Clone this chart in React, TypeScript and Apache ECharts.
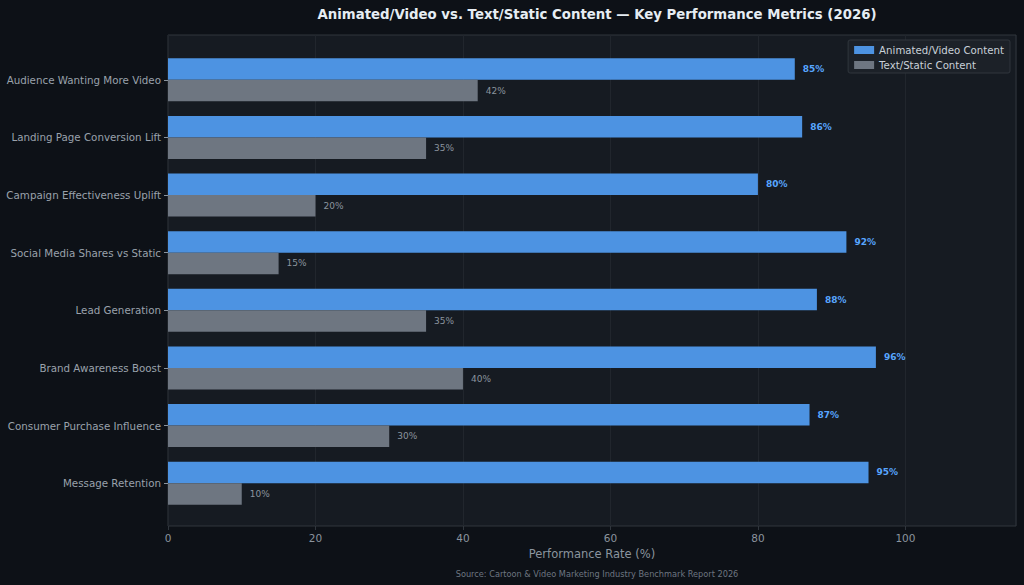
import { useEffect, useRef } from 'react';
import * as echarts from 'echarts';

// categories, top to bottom
const categories = [
    'Audience Wanting More Video',
    'Landing Page Conversion Lift',
    'Campaign Effectiveness Uplift',
    'Social Media Shares vs Static',
    'Lead Generation',
    'Brand Awareness Boost',
    'Consumer Purchase Influence',
    'Message Retention',
];

const animatedValues = [85, 86, 80, 92, 88, 96, 87, 95];
const staticValues = [42, 35, 20, 15, 35, 40, 30, 10];

const seriesNames = ['Animated/Video Content', 'Text/Static Content'];
const xTicks = [0, 20, 40, 60, 80, 100];

const FONT = '"DejaVu Sans", sans-serif';

const App = () => {
    const chartRef = useRef<HTMLDivElement>(null);

    useEffect(() => {
        if (!chartRef.current) return;
        const chart = echarts.init(chartRef.current, null, { renderer: 'svg' });

        const option = {
            animation: false,
            backgroundColor: '#0d1117',
            textStyle: { fontFamily: FONT },
            title: [
                {
                    text: 'Animated/Video vs. Text/Static Content — Key Performance Metrics (2026)',
                    left: 592,
                    top: 3,
                    textAlign: 'center',
                    textStyle: { color: '#e6edf3', fontSize: 13.3, fontWeight: 'bold', fontFamily: FONT },
                },
                {
                    text: 'Source: Cartoon & Video Marketing Industry Benchmark Report 2026',
                    left: 592,
                    top: 565,
                    textAlign: 'center',
                    textStyle: { color: '#6e7681', fontSize: 8.2, fontWeight: 'normal', fontFamily: FONT },
                },
            ],
            legend: {
                data: seriesNames,
                orient: 'vertical',
                right: 14,
                top: 40,
                icon: 'rect',
                itemWidth: 20,
                itemHeight: 8,
                itemGap: 5,
                padding: [5, 6, 3, 6],
                backgroundColor: '#1c2128',
                borderColor: '#30363d',
                borderWidth: 1,
                borderRadius: 2,
                itemStyle: { borderWidth: 0 },
                textStyle: { color: '#c9d1d9', fontSize: 10.2, fontFamily: FONT },
            },
            grid: [
                {
                    // frame / background
                    left: 168,
                    right: 8,
                    top: 35,
                    bottom: 59,
                    show: true,
                    backgroundColor: '#161b22',
                    borderColor: '#30363d',
                    borderWidth: 1,
                },
                {
                    // data area (category bands inset like matplotlib margins)
                    left: 168,
                    right: 8,
                    top: 51,
                    bottom: 73,
                },
            ],
            xAxis: [
                {
                    gridIndex: 0,
                    type: 'value',
                    min: 0,
                    max: 115,
                    interval: 20,
                    name: 'Performance Rate (%)',
                    nameLocation: 'middle',
                    nameGap: 21,
                    nameTextStyle: { color: '#8b949e', fontSize: 11.5 },
                    axisLine: { show: false },
                    axisTick: { show: true, length: 4, lineStyle: { color: '#30363d' } },
                    axisLabel: {
                        color: '#8b949e',
                        fontSize: 10.5,
                        margin: 6,
                        showMaxLabel: false,
                        formatter: (v: number) => (xTicks.includes(v) ? String(v) : ''),
                    },
                    splitLine: { show: true, lineStyle: { color: '#21262d', width: 1 } },
                },
                {
                    gridIndex: 1,
                    type: 'value',
                    min: 0,
                    max: 115,
                    show: false,
                },
            ],
            yAxis: [
                {
                    gridIndex: 0,
                    type: 'value',
                    show: false,
                    splitLine: { show: false },
                },
                {
                    gridIndex: 1,
                    type: 'category',
                    data: categories,
                    inverse: true,
                    axisLine: { show: false },
                    axisTick: { show: true, alignWithLabel: true, length: 4, lineStyle: { color: '#8b949e' } },
                    axisLabel: { color: '#9aa2ac', fontSize: 10.3, margin: 7 },
                    splitLine: { show: false },
                },
            ],
            series: [
                {
                    name: seriesNames[0],
                    type: 'bar',
                    xAxisIndex: 1,
                    yAxisIndex: 1,
                    data: animatedValues,
                    barWidth: 21.5,
                    barGap: '0%',
                    itemStyle: { color: '#4d93e2' },
                    label: {
                        show: true,
                        position: 'right',
                        distance: 8,
                        formatter: '{c}%',
                        color: '#58a6ff',
                        fontSize: 9,
                        fontWeight: 'bold',
                        fontFamily: FONT,
                    },
                },
                {
                    name: seriesNames[1],
                    type: 'bar',
                    xAxisIndex: 1,
                    yAxisIndex: 1,
                    data: staticValues,
                    barWidth: 21.5,
                    barGap: '0%',
                    itemStyle: { color: '#6e7681' },
                    label: {
                        show: true,
                        position: 'right',
                        distance: 8,
                        formatter: '{c}%',
                        color: '#8b949e',
                        fontSize: 9,
                        fontFamily: FONT,
                    },
                },
            ],
        };

        chart.setOption(option as echarts.EChartsOption);

        const handleResize = () => chart.resize();
        window.addEventListener('resize', handleResize);

        return () => {
            window.removeEventListener('resize', handleResize);
            chart.dispose();
        };
    }, []);

    return (
        <div
            ref={chartRef}
            style={{ position: 'fixed', left: 0, top: 0, width: 1024, height: 585 }}
        />
    );
};

export default App;
